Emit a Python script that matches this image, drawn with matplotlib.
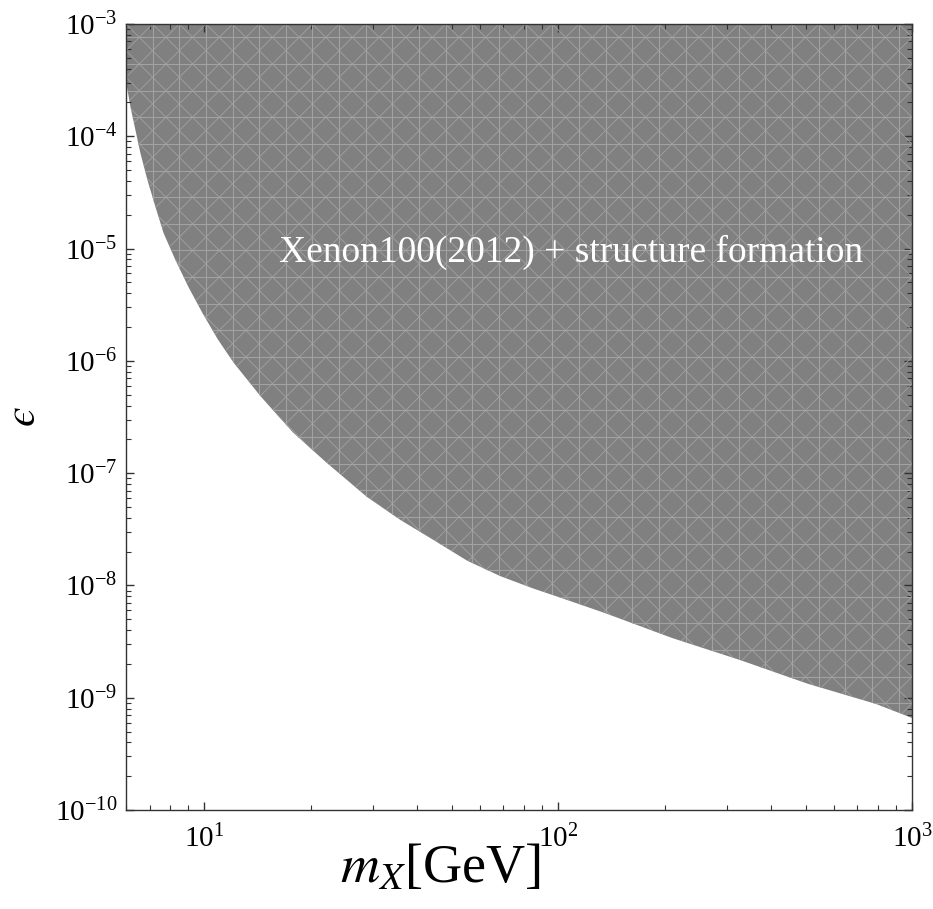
import matplotlib
matplotlib.use("Agg")
import numpy as np
import matplotlib.pyplot as plt
from matplotlib.collections import LineCollection
from matplotlib.ticker import LogLocator

plt.rcParams['font.family'] = ['Liberation Serif', 'DejaVu Serif']
plt.rcParams['mathtext.fontset'] = 'stix'

# Exclusion boundary (m_X in GeV, epsilon)
mass = [6.0, 6.18, 6.38, 6.59, 6.9, 7.27, 7.66, 8.28, 9.01, 9.87, 10.9, 12.1,
        14.4, 17.8, 22.2, 28.8, 35.8, 44.4, 55.3, 68.6, 84.9, 100, 135, 210,
        326, 508, 791, 1000]
eps = [3.1e-4, 1.82e-4, 1.14e-4, 7.1e-5, 4.08e-5, 2.35e-5, 1.38e-5, 7.9e-6,
       4.55e-6, 2.67e-6, 1.56e-6, 9.6e-7, 4.85e-7, 2.3e-7, 1.23e-7, 6.14e-8,
       3.83e-8, 2.54e-8, 1.66e-8, 1.21e-8, 9.4e-9, 7.9e-9, 5.7e-9, 3.4e-9,
       2.17e-9, 1.33e-9, 8.8e-10, 6.6e-10]
label = "Xenon100(2012) + structure formation"
xticks = [1e1, 1e2, 1e3]
yticks = [1e-10, 1e-9, 1e-8, 1e-7, 1e-6, 1e-5, 1e-4, 1e-3]

fig = plt.figure(figsize=(9.33, 9.09), dpi=100)
ax = fig.add_axes([0.135, 0.1089, 0.8425, 0.8647])
ax.set_xscale('log')
ax.set_yscale('log')

region = ax.fill_between(mass, eps, 1e-3, facecolor='#808080', linewidth=0)

# light mesh inside the shaded region (mimics the rendered triangulation)
step = 1 / 29.5
grid = []
diag = []
for c in np.arange(0, 1 + step, step):
    grid.append([(c, 0), (c, 1)])
    grid.append([(0, c), (1, c)])
for c in np.arange(-1, 2 + step, step):
    diag.append([(c, 0), (c + 1, 1)])
    diag.append([(c, 0), (c - 1, 1)])
for segs, lw in ((grid, 0.8), (diag, 0.6)):
    mesh = LineCollection(segs, colors='#a2a2a2', linewidths=lw,
                          transform=ax.transAxes)
    ax.add_collection(mesh)
    mesh.set_clip_path(region.get_paths()[0], ax.transData)

ax.text(0.566, 0.71, label, transform=ax.transAxes, color='white',
        fontsize=27, ha='center', va='center')

ax.set_xlabel(r'$m_X$[GeV]', fontsize=39)
ax.xaxis.set_label_coords(0.40, -0.043)
ax.set_ylabel('$\u03f5$', fontsize=32)
ax.yaxis.set_label_coords(-0.104, 0.50)

ax.set_xticks(xticks)
ax.set_yticks(yticks)
ax.xaxis.set_minor_locator(LogLocator(base=10, subs=range(2, 10), numticks=20))
ax.yaxis.set_minor_locator(LogLocator(base=10, subs=range(2, 10), numticks=20))
ax.set_xlim(6.0, 1000)
ax.set_ylim(1e-10, 1e-3)

ax.tick_params(which='both', direction='in', top=True, right=True,
               color='#333333', labelsize=21)
ax.tick_params(which='major', length=6, width=1)
ax.tick_params(which='minor', length=3.5, width=0.8,
               labelbottom=False, labelleft=False)
ax.tick_params(axis='x', pad=11)
ax.tick_params(axis='y', pad=6)
for s in ax.spines.values():
    s.set_color('#333333')
    s.set_linewidth(1)

fig.savefig("out.png", dpi=100)
